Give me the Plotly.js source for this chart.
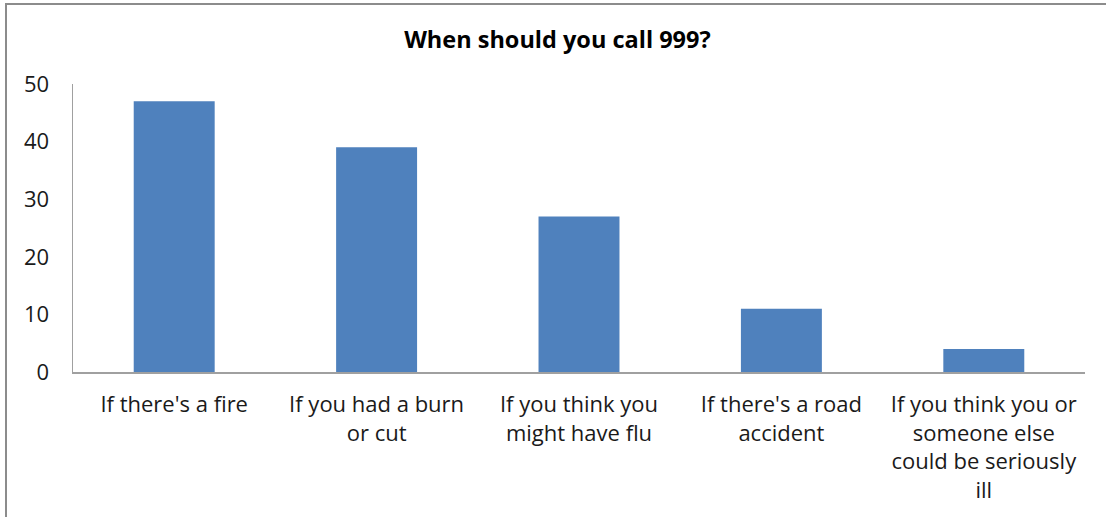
<!DOCTYPE html>
<html>
<head>
<meta charset="utf-8">
<script src="https://cdn.plot.ly/plotly-3.0.1.min.js"></script>
<style>
  html, body { margin: 0; padding: 0; background: #fff; overflow: hidden; }
  #chart { position: absolute; left: 0; top: 0; width: 1106px; height: 517px; }
  #frame {
    position: absolute; left: 5px; top: 3px; width: 1120px; height: 530px;
    border-left: 2px solid #8c8c8c; border-top: 2px solid #8c8c8c;
    pointer-events: none;
  }
</style>
</head>
<body>
<div id="chart"></div>
<div id="frame"></div>
<script>
// When should you call 999?
const categories = [
  "If there's a fire",
  "If you had a burn<br>or cut",
  "If you think you<br>might have flu",
  "If there's a road<br>accident",
  "If you think you or<br>someone else<br>could be seriously<br>ill",
];
const counts = [47, 39, 27, 11, 4];
const yTicks = [0, 10, 20, 30, 40, 50];

const FONT = "'Open Sans', Lato, sans-serif";

const trace = {
  x: categories,
  y: counts,
  type: "bar",
  marker: { color: "#4f81bd" },
  hoverinfo: "x+y",
};

const layout = {
  width: 1106,
  height: 517,
  margin: { l: 73, r: 21, t: 84, b: 145 },
  paper_bgcolor: "#fff",
  plot_bgcolor: "#fff",
  font: { family: FONT, size: 22, color: "#1a1a1a" },
  title: {
    text: "<b>When should you call 999?</b>",
    font: { family: FONT, size: 23.5, color: "#000" },
    xref: "container",
    yref: "container",
    x: 0.504,
    y: 0.923,
    xanchor: "center",
    yanchor: "middle",
  },
  bargap: 0.6,
  showlegend: false,
  xaxis: {
    type: "category",
    showline: true,
    linecolor: "#a0a0a0",
    linewidth: 1.5,
    ticks: "",
    showgrid: false,
    zeroline: false,
    tickangle: 0,
    ticklabelstandoff: 12,
  },
  yaxis: {
    range: [0, 50],
    tickvals: yTicks,
    showline: true,
    linecolor: "#a0a0a0",
    linewidth: 1.5,
    ticks: "",
    showgrid: false,
    zeroline: false,
    ticklabelstandoff: 18,
  },
};

Plotly.newPlot("chart", [trace], layout, { displayModeBar: false, staticPlot: true });
</script>
</body>
</html>
